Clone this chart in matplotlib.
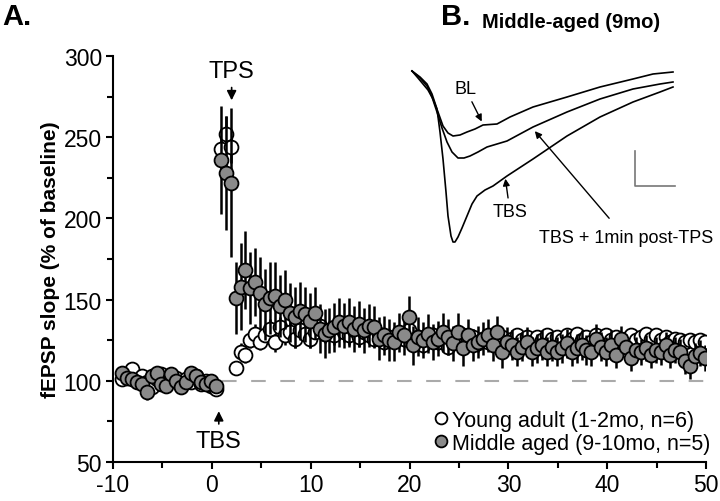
import matplotlib
matplotlib.use("Agg")
import matplotlib.pyplot as plt
import numpy as np

plt.rcParams['font.family'] = ['Liberation Sans', 'DejaVu Sans']
plt.rcParams['axes.unicode_minus'] = False

# ---- data ----
# baseline sweeps every 0.5 min, then post-TBS sweeps
t_base = np.arange(-9.1, 0.5, 0.5)
t_post = np.arange(0.9, 50.0, 0.5)

young_base = [101, 104, 107, 100, 103, 99, 96, 101, 104, 98,
              100, 102, 97, 101, 99, 103, 98, 100, 97, 95]
aged_base = [105, 102, 101, 99, 98, 93, 103, 105, 98, 97,
             104, 100, 96, 99, 105, 103, 99, 98, 100, 97]

young_post = [243, 252, 244, 108, 118, 116, 125, 129, 124, 128,
              132, 124, 133, 128, 130, 126, 131, 129, 126, 130,
              134, 129, 131, 128, 133, 130, 128, 131, 127, 130,
              128, 126, 129, 124, 127, 125, 129, 126, 131, 124,
              127, 122, 126, 128, 124, 127, 121, 126, 124, 128,
              125, 127, 123, 126, 124, 128, 125, 127, 124, 126,
              128, 125, 127, 124, 127, 125, 128, 126, 127, 125,
              128, 126, 129, 125, 127, 124, 128, 126, 128, 125,
              127, 124, 126, 128, 125, 127, 129, 126, 128, 125,
              127, 124, 126, 125, 124, 125, 124, 125, 124]
aged_post = [236, 228, 222, 151, 158, 168, 157, 161, 154, 147,
             151, 152, 146, 150, 142, 139, 143, 141, 137, 142,
             132, 129, 131, 133, 136, 134, 136, 132, 135, 131,
             134, 133, 126, 128, 125, 124, 130, 128, 139, 122,
             127, 125, 129, 124, 126, 130, 127, 123, 130, 120,
             128, 122, 124, 126, 128, 122, 130, 118, 124, 122,
             118, 121, 124, 118, 120, 122, 118, 121, 118, 120,
             123, 118, 120, 122, 119, 118, 126, 121, 118, 122,
             116, 126, 121, 114, 119, 118, 120, 116, 119, 118,
             122, 116, 119, 118, 112, 109, 115, 117, 114]

young_err_base = [3, 3, 4, 3, 3, 3, 3, 3, 4, 3, 3, 3, 3, 3, 3, 3, 3, 3, 3, 3]
aged_err_base = [4, 4, 4, 4, 4, 5, 4, 4, 4, 4, 4, 4, 4, 4, 4, 4, 4, 4, 4, 4]
young_err_post = [12, 11, 10, 4, 5, 5, 5, 6, 5, 6,
                  6, 6, 6, 6, 6, 6, 6, 6, 6, 6,
                  6, 6, 6, 6, 6, 6, 6, 6, 6, 6,
                  5, 5, 5, 5, 5, 5, 5, 5, 5, 5,
                  5, 5, 5, 5, 5, 5, 5, 5, 5, 5,
                  5, 5, 5, 5, 5, 5, 5, 5, 5, 5,
                  4, 4, 4, 4, 4, 4, 4, 4, 4, 4,
                  4, 4, 4, 4, 4, 4, 4, 4, 4, 4,
                  4, 4, 4, 4, 4, 4, 4, 4, 4, 4,
                  4, 4, 4, 4, 4, 4, 4, 4, 4]
aged_err_post = [33, 35, 46, 22, 27, 24, 22, 21, 22, 22,
                 22, 21, 19, 18, 18, 19, 18, 17, 17, 16,
                 15, 15, 14, 15, 15, 14, 15, 14, 14, 14,
                 13, 13, 13, 12, 13, 12, 12, 12, 13, 12,
                 12, 11, 12, 11, 11, 12, 11, 11, 12, 11,
                 10, 10, 10, 10, 10, 10, 10, 10, 9, 9,
                 9, 9, 9, 9, 9, 9, 9, 9, 9, 9,
                 9, 9, 9, 9, 9, 9, 9, 9, 9, 9,
                 8, 8, 8, 8, 8, 8, 8, 8, 8, 8,
                 8, 8, 8, 8, 8, 8, 8, 8, 8]

# example traces (panel B), time vs amplitude in arbitrary units
bl_t = [12, 18, 23, 28, 33, 38, 43, 48, 53, 60, 67, 75, 83, 97, 110, 133,
        167, 200, 233, 253, 273]
bl_v = [-17, -24, -30, -36, -45, -58, -72, -79, -82, -81, -78, -75, -71,
        -70, -63, -53, -43, -33, -25, -20, -18]
mid_t = [12, 20, 27, 32, 37, 42, 47, 52, 58, 64, 70, 78, 87, 107, 133, 167,
         200, 233, 260, 273]
mid_v = [-17, -24, -32, -43, -58, -74, -88, -98, -104, -104, -102, -98, -93,
         -87, -73, -58, -45, -35, -30, -28]
tbs_t = [12, 20, 27, 32, 37, 40, 43, 46, 48, 51, 53, 55, 58, 62, 67, 72, 77,
         85, 93, 107, 133, 167, 200, 233, 260, 273]
tbs_v = [-17, -23, -30, -40, -55, -78, -105, -138, -162, -182, -188, -188,
         -183, -174, -162, -150, -142, -136, -132, -122, -105, -82, -63, -48,
         -38, -33]

# ---- figure ----
fig = plt.figure(figsize=(7.2, 5.02), dpi=100)
ax = fig.add_axes([0.157, 0.0777, 0.8236, 0.8088])

t_all = np.concatenate([t_base, t_post])
young = np.concatenate([young_base, young_post])
aged = np.concatenate([aged_base, aged_post])
young_err = np.concatenate([young_err_base, young_err_post])
aged_err = np.concatenate([aged_err_base, aged_err_post])

ax.plot([1, 50], [100, 100], color='#aaaaaa', lw=1.5, dashes=(7, 7), zorder=1)

ax.errorbar(t_all, young, yerr=young_err, fmt='none', ecolor='black',
            elinewidth=1.8, capsize=0, zorder=2)
ax.plot(t_all, young, 'o', mfc='white', mec='black', mew=1.3, ms=10,
        ls='none', zorder=3, label='Young adult (1-2mo, n=6)')
ax.errorbar(t_all, aged, yerr=aged_err, fmt='none', ecolor='black',
            elinewidth=1.8, capsize=0, zorder=4)
ax.plot(t_all, aged, 'o', mfc='#8a8a8a', mec='black', mew=1.3, ms=10,
        ls='none', zorder=5, label='Middle aged (9-10mo, n=5)')

ax.set_xlim(-10, 50)
ax.set_ylim(50, 300)
ax.set_xticks(np.arange(-10, 51, 10))
ax.set_xticks(np.arange(-10, 51, 5), minor=True)
ax.set_yticks(np.arange(50, 301, 50))
ax.set_yticks(np.arange(50, 301, 25), minor=True)
ax.tick_params(which='both', direction='out', width=1.5)
ax.tick_params(which='major', length=5, labelsize=16.5, pad=3)
ax.tick_params(which='minor', length=4)
for s in ['top', 'right']:
    ax.spines[s].set_visible(False)
for s in ['left', 'bottom']:
    ax.spines[s].set_linewidth(1.5)
ax.set_ylabel('fEPSP slope (% of baseline)', fontsize=15, fontweight='bold',
              labelpad=3)

ax.annotate('TPS', xy=(2.0, 271), xytext=(2.0, 284), ha='center', va='bottom',
            fontsize=17, arrowprops=dict(arrowstyle='-|>', color='black',
                                         lw=1.2, mutation_scale=14))
ax.annotate('TBS', xy=(0.7, 83), xytext=(0.7, 70), ha='center', va='top',
            fontsize=17, arrowprops=dict(arrowstyle='-|>', color='black',
                                         lw=1.2, mutation_scale=14))

leg = ax.legend(loc='lower right', bbox_to_anchor=(1.04, -0.028), frameon=False,
                fontsize=15.5, handletextpad=0.05, handlelength=0.9,
                labelspacing=0.1, markerscale=0.85)

fig.text(0.003, 0.995, 'A.', fontsize=21, fontweight='bold', va='top')
fig.text(0.612, 0.995, 'B.', fontsize=21, fontweight='bold', va='top')
fig.text(0.793, 0.975, 'Middle-aged (9mo)', fontsize=14.5, fontweight='bold',
         ha='center', va='top')

# inset with traces
axi = fig.add_axes([400 / 720, 1 - 255 / 502, 280 / 720, 200 / 502])
axi.set_xlim(0, 280)
axi.set_ylim(-200, 0)
axi.axis('off')
for tt, vv in [(bl_t, bl_v), (mid_t, mid_v), (tbs_t, tbs_v)]:
    axi.plot(tt, vv, color='black', lw=1.2)
axi.plot([235, 235, 275], [-97, -132, -132], color='#777777', lw=1.2)
axi.annotate('BL', xy=(83, -70), xytext=(65, -34), ha='center', va='center',
             fontsize=13, arrowprops=dict(arrowstyle='-|>', color='black',
                                          lw=1, mutation_scale=10))
axi.annotate('TBS', xy=(105, -122), xytext=(110, -158), ha='center',
             va='center', fontsize=13,
             arrowprops=dict(arrowstyle='-|>', color='black', lw=1,
                             mutation_scale=10))
axi.annotate('TBS + 1min post-TPS', xy=(133, -75), xytext=(226, -184),
             ha='center', va='center', fontsize=13, annotation_clip=False,
             arrowprops=dict(arrowstyle='-|>', color='black', lw=1,
                             mutation_scale=10, shrinkA=8))

fig.savefig('out.png', dpi=100)
